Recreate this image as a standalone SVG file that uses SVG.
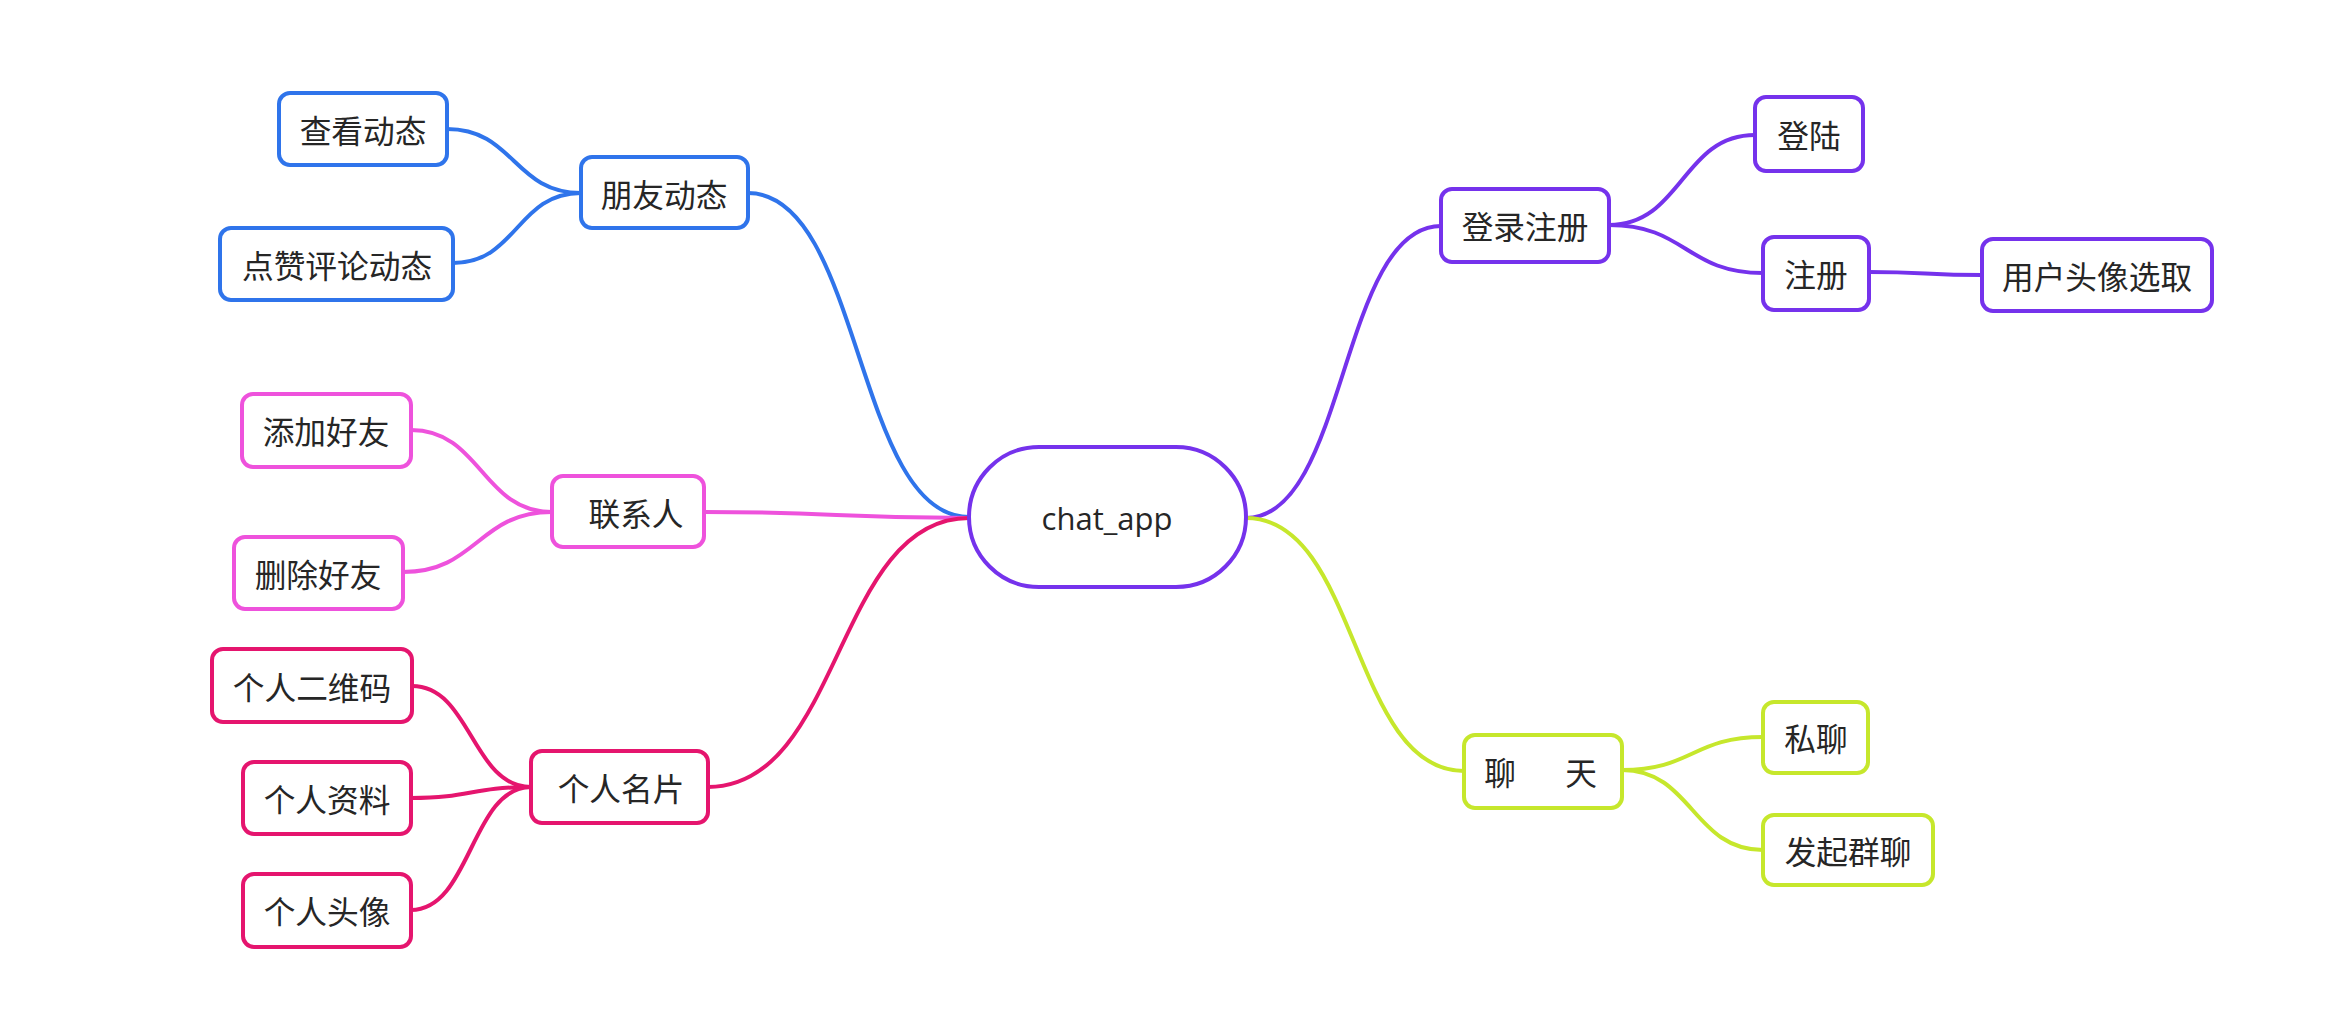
<svg xmlns="http://www.w3.org/2000/svg" width="2329" height="1035" viewBox="0 0 2329 1035">
<style>
  .box { fill: #ffffff; stroke-width: 4; }
  .lbl { font-family: "Noto Sans CJK SC", "Noto Sans", sans-serif; font-size: 31.7px; fill: #262626; text-anchor: middle; dominant-baseline: central; }
  .root-lbl { font-family: "Open Sans", "Noto Sans", sans-serif; font-size: 31px; fill: #262626; text-anchor: middle; dominant-baseline: central; }
  .edge { fill: none; stroke-width: 4; stroke-linecap: round; }
  .blue { stroke: #2F74EB; }
  .pink { stroke: #EE52DC; }
  .crimson { stroke: #E5156E; }
  .purple { stroke: #7532EC; }
  .lime { stroke: #C6E72C; }
</style>
<rect width="2329" height="1035" fill="#ffffff"/>
<g id="connectors">
  <path class="edge blue" d="M748,193 C862,193 855,517 969,517"/>
  <path class="edge pink" d="M704,512 C836,512 837,518 969,518"/>
  <path class="edge crimson" d="M708,787 C842,787 835,518 969,518"/>
  <path class="edge purple" d="M1246,518 C1347,518 1340,226 1441,226"/>
  <path class="edge lime" d="M1246,518 C1359,518 1351,771 1464,771"/>
  <path class="edge blue" d="M447,129 C514,129 514,193 581,193"/>
  <path class="edge blue" d="M453,263 C517,263 517,193 581,193"/>
  <path class="edge pink" d="M411,430 C481,430 482,512 552,512"/>
  <path class="edge pink" d="M403,572 C477,572 478,512 552,512"/>
  <path class="edge crimson" d="M412,686 C471,686 472,787 531,787"/>
  <path class="edge crimson" d="M411,798 C471,798 471,787 531,787"/>
  <path class="edge crimson" d="M411,910 C471,910 471,787 531,787"/>
  <path class="edge purple" d="M1609,225 C1682,225 1682,135 1755,135"/>
  <path class="edge purple" d="M1609,225 C1686,225 1686,273 1763,273"/>
  <path class="edge purple" d="M1869,272 C1925,272 1926,275 1982,275"/>
  <path class="edge lime" d="M1622,770 C1692,770 1693,737 1763,737"/>
  <path class="edge lime" d="M1622,770 C1692,770 1693,850 1763,850"/>
</g>
<g id="root">
  <rect class="box purple" x="969" y="447" width="277" height="140" rx="70"/>
  <text class="root-lbl" x="1107" y="518">chat_app</text>
</g>
<g id="n-pengyou">
  <rect class="box blue" x="581" y="157" width="167" height="71" rx="11"/>
  <text class="lbl" x="664" y="193">朋友动态</text>
</g>
<g id="n-chakan">
  <rect class="box blue" x="279" y="93" width="168" height="72" rx="11"/>
  <text class="lbl" x="363" y="129">查看动态</text>
</g>
<g id="n-dianzan">
  <rect class="box blue" x="220" y="228" width="233" height="72" rx="11"/>
  <text class="lbl" x="337" y="264">点赞评论动态</text>
</g>
<g id="n-lianxiren">
  <rect class="box pink" x="552" y="476" width="152" height="71" rx="11"/>
  <text class="lbl" x="636" y="512">联系人</text>
</g>
<g id="n-tianjia">
  <rect class="box pink" x="242" y="394" width="169" height="73" rx="11"/>
  <text class="lbl" x="326" y="430">添加好友</text>
</g>
<g id="n-shanchu">
  <rect class="box pink" x="234" y="537" width="169" height="72" rx="11"/>
  <text class="lbl" x="318" y="573">删除好友</text>
</g>
<g id="n-mingpian">
  <rect class="box crimson" x="531" y="751" width="177" height="72" rx="11"/>
  <text class="lbl" x="621" y="787">个人名片</text>
</g>
<g id="n-erweima">
  <rect class="box crimson" x="212" y="649" width="200" height="73" rx="11"/>
  <text class="lbl" x="312" y="686">个人二维码</text>
</g>
<g id="n-ziliao">
  <rect class="box crimson" x="243" y="762" width="168" height="72" rx="11"/>
  <text class="lbl" x="327" y="798">个人资料</text>
</g>
<g id="n-touxiang">
  <rect class="box crimson" x="243" y="874" width="168" height="73" rx="11"/>
  <text class="lbl" x="327" y="910">个人头像</text>
</g>
<g id="n-denglu">
  <rect class="box purple" x="1441" y="189" width="168" height="73" rx="11"/>
  <text class="lbl" x="1525" y="225">登录注册</text>
</g>
<g id="n-denglu2">
  <rect class="box purple" x="1755" y="97" width="108" height="74" rx="11"/>
  <text class="lbl" x="1809" y="134">登陆</text>
</g>
<g id="n-zhuce">
  <rect class="box purple" x="1763" y="237" width="106" height="73" rx="11"/>
  <text class="lbl" x="1816" y="273">注册</text>
</g>
<g id="n-xuanqu">
  <rect class="box purple" x="1982" y="239" width="230" height="72" rx="11"/>
  <text class="lbl" x="2097" y="275">用户头像选取</text>
</g>
<g id="n-liaotian">
  <rect class="box lime" x="1464" y="735" width="158" height="73" rx="11"/>
  <text class="lbl" x="1500" y="771">聊<tspan x="1581">天</tspan></text>
</g>
<g id="n-siliao">
  <rect class="box lime" x="1763" y="702" width="105" height="71" rx="11"/>
  <text class="lbl" x="1816" y="737">私聊</text>
</g>
<g id="n-qunliao">
  <rect class="box lime" x="1763" y="815" width="170" height="70" rx="11"/>
  <text class="lbl" x="1848" y="850">发起群聊</text>
</g>
</svg>
